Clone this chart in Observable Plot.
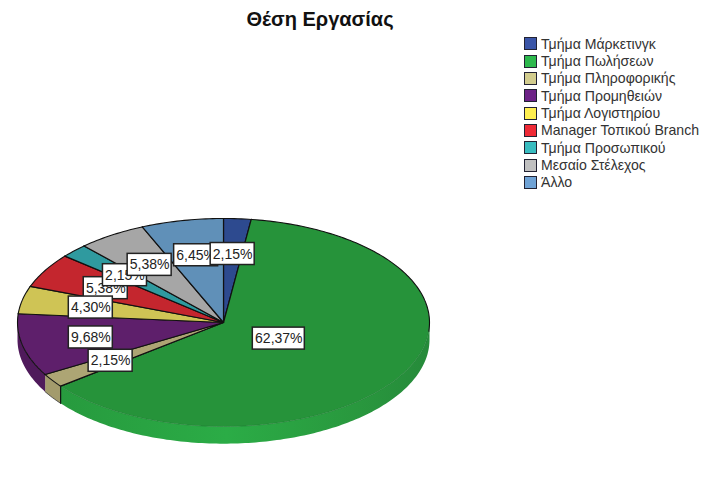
<!DOCTYPE html>
<html lang="el">
<head>
<meta charset="utf-8">
<script src="https://cdn.jsdelivr.net/npm/d3@7"></script>
<script src="https://cdn.jsdelivr.net/npm/@observablehq/plot@0.6"></script>
<style>
  html, body { margin: 0; padding: 0; background: #fff; }
  #chart { position: relative; width: 715px; height: 483px; overflow: hidden; font-family: "Liberation Sans", Arial, sans-serif; }
  #chart svg { position: absolute; left: 0; top: 0; }
  #title { position: absolute; left: 120px; width: 400px; top: 8px; text-align: center; font-size: 20px; font-weight: bold; color: #111; line-height: 22px; }
  #legend { position: absolute; left: 524px; top: 35px; }
  .row { display: flex; align-items: center; height: 17.35px; white-space: nowrap; font-size: 14.1px; color: #333; }
  .sw { width: 11px; height: 11px; border: 1.3px solid #223; margin-right: 4px; flex: none; }
</style>
</head>
<body>
<div id="chart">
  <div id="title">Θέση Εργασίας</div>
  <div id="legend"></div>
</div>
<script>
const categories = ["Τμήμα Μάρκετινγκ","Τμήμα Πωλήσεων","Τμήμα Πληροφορικής","Τμήμα Προμηθειών","Τμήμα Λογιστηρίου","Manager Τοπικού Branch","Τμήμα Προσωπικού","Μεσαίο Στέλεχος","Άλλο"];
const percents = [2.15,62.37,2.15,9.68,4.30,5.38,2.15,5.38,6.45];
const labels = ["2,15%","62,37%","2,15%","9,68%","4,30%","5,38%","2,15%","5,38%","6,45%"];
const labelOrder = [1,8,0,5,4,6,7,3,2];
const topColors = ["#2d4a8f","#26933a","#ada574","#5e1f6b","#cfc455","#c4262e","#2f9a9f","#a6a6a6","#6090b8"];
const sideColors = ["#2d4a8f","url(#greenSide)","#a39b6c","#4f1a5b","#cfc455","#c4262e","#2f9a9f","#a6a6a6","#6090b8"];
const swatchColors = ["#3a55a8","#2db84d","#d2cc8e","#6d2287","#ffef50","#ee2a36","#38bcc0","#c0c0c0","#6fa3d6"];

const depth = 0.165;
const total = d3.sum(percents);
const pt = (deg, r = 1, drop = 0) => ({
  x: r * Math.sin(deg * Math.PI / 180),
  y: r * Math.cos(deg * Math.PI / 180) - drop
});
const arcAngles = (a, b) => [a, ...d3.range(Math.ceil(a), b, 1).filter(v => v > a), b];

let acc = 0;
const slices = percents.map((p, i) => {
  const a0 = acc / total * 360;
  acc += p;
  const a1 = acc / total * 360;
  return {i, p, a0, a1, mid: (a0 + a1) / 2, label: labels[i]};
});

const defs = () => {
  const d = d3.create("svg:defs");
  const g = d.append("linearGradient").attr("id", "greenSide");
  [[0, "#279a3e"], [0.45, "#2bac46"], [0.8, "#29983e"], [1, "#268a3a"]].forEach(([o, c]) =>
    g.append("stop").attr("offset", o).attr("stop-color", c));
  return d.node();
};

const sideMarks = slices.flatMap(s => {
  const a = Math.max(s.a0, 90), b = Math.min(s.a1, 270);
  if (a >= b) return [];
  const angs = arcAngles(a, b);
  const poly = [...angs.map(t => pt(t)), ...angs.slice().reverse().map(t => pt(t, 1, depth))];
  return [Plot.line(poly, {x: "x", y: "y", fill: sideColors[s.i], stroke: "none"})];
});

const wall = s => [pt(s.a0), pt(s.a0, 1, depth)];
const wallMarks = slices.filter(s => s.i === 2).flatMap(s => [
  Plot.line(wall(s), {x: "x", y: "y", stroke: "#111", strokeWidth: 1.2}),
  Plot.line(arcAngles(s.a0, s.a1).map(t => pt(t, 1, depth)), {x: "x", y: "y", stroke: "#333", strokeWidth: 0.8})
]);

const topMarks = slices.flatMap(s => {
  const arc = arcAngles(s.a0, s.a1).map(t => pt(t));
  const c = {x: 0, y: 0};
  const marks = [
    Plot.line([c, ...arc, c], {x: "x", y: "y", fill: topColors[s.i], stroke: "none"}),
    Plot.line([arc[arc.length - 1], c, arc[0]], {x: "x", y: "y", stroke: "#111", strokeWidth: 1.2})
  ];
  if (s.i === 1) {
    const back = arcAngles(s.a0, 95).map(t => pt(t));
    const front = arcAngles(95, s.a1).map(t => pt(t));
    marks.push(Plot.line(back, {x: "x", y: "y", stroke: "#111", strokeWidth: 1.1}));
    marks.push(Plot.line(front, {x: "x", y: "y", stroke: "#1f7a33", strokeWidth: 0.6}));
  } else {
    marks.push(Plot.line(arc, {x: "x", y: "y", stroke: "#111", strokeWidth: 1.1}));
  }
  return marks;
});

// 1 unit of the x scale is 206 px, 1 unit of the y scale is 104 px
const xUnit = 206, yUnit = 104;
const labelMarks = labelOrder.flatMap(i => {
  const s = slices[i];
  const c = pt(s.mid, s.p > 50 ? 0.31 : 0.66);
  const hw = (s.label.length * 8 + 4) / 2 / xUnit, hh = 11 / yUnit;
  const d = {x: c.x, y: c.y, x1: c.x - hw, x2: c.x + hw, y1: c.y - hh, y2: c.y + hh, t: s.label};
  return [
    Plot.rect([d], {x1: "x1", x2: "x2", y1: "y1", y2: "y2", fill: "#fff", stroke: "#222", strokeWidth: 1.5}),
    Plot.text([d], {x: "x", y: "y", text: "t", fontSize: 14, fill: "#222", fontFamily: "Liberation Sans, Arial, sans-serif"})
  ];
});

const plot = Plot.plot({
  width: 715,
  height: 483,
  margin: 0,
  style: {background: "transparent", overflow: "visible"},
  x: {domain: [-1, 1], range: [17, 429], axis: null},
  y: {domain: [-1, 1], range: [426, 218], axis: null},
  marks: [defs, ...sideMarks, ...wallMarks, ...topMarks, ...labelMarks]
});
const chart = document.getElementById("chart");
chart.insertBefore(plot, chart.firstChild);

const legend = d3.select("#legend");
categories.forEach((c, i) => {
  const r = legend.append("div").attr("class", "row");
  r.append("div").attr("class", "sw").style("background", swatchColors[i]);
  r.append("span").text(c);
});
</script>
</body>
</html>
